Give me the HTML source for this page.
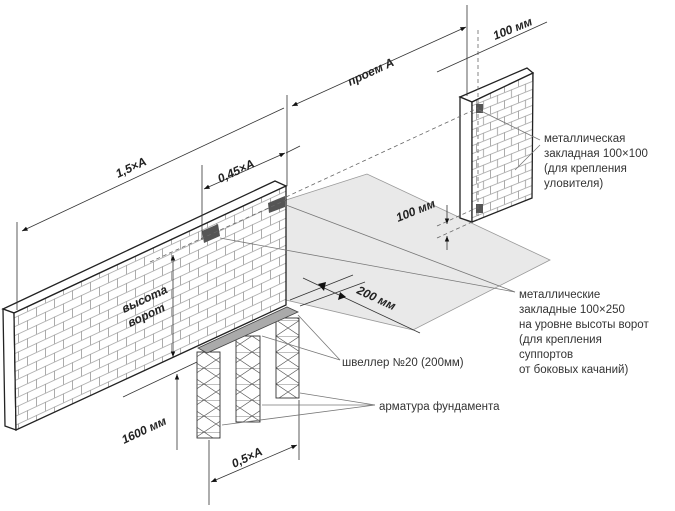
<!DOCTYPE html>
<html><head><meta charset="utf-8"><style>
html,body{margin:0;padding:0;background:#fff}
svg{display:block}
.d{font-family:"Liberation Sans",sans-serif;font-size:12px;font-weight:bold;font-style:italic;fill:#222}
.c{font-family:"Liberation Sans",sans-serif;font-size:11.5px;fill:#333}
</style></head><body>
<svg width="675" height="511" viewBox="0 0 675 511" xmlns="http://www.w3.org/2000/svg">
<defs>
<pattern id="br" width="18" height="18" patternUnits="userSpaceOnUse" patternTransform="skewY(-25)">
<rect width="18" height="18" fill="#fff"/>
<path d="M0 0.5H18M0 9.5H18M0.5 0V9M9.5 9V18" stroke="#999" stroke-width="0.8" fill="none"/>
</pattern>
<pattern id="br2" width="14" height="16" patternUnits="userSpaceOnUse" patternTransform="skewY(-22)">
<rect width="14" height="16" fill="#fff"/>
<path d="M0 0.5H14M0 8.5H14M0.5 0V8M7.5 8V16" stroke="#999" stroke-width="0.8" fill="none"/>
</pattern>
<marker id="a" viewBox="0 0 10 10" refX="10" refY="5" markerWidth="7" markerHeight="7" orient="auto-start-reverse"><path d="M0 1L10 5L0 9z" fill="#111"/></marker>
<pattern id="cage" width="24" height="16" patternUnits="userSpaceOnUse">
<path d="M0 8L12 0L24 8L12 16Z M0 0H24" stroke="#555" stroke-width="0.7" fill="none"/>
</pattern>
</defs>

<polygon points="286,200 367,174 550,260 413,330 286,300" fill="#e9e9e9" stroke="#999" stroke-width="0.8"/>

<polygon points="3,309 275,181 286,186 14,313" fill="#fff" stroke="#222" stroke-width="1.3"/>
<polygon points="3,309 14,313 16,430 5,426" fill="#fff" stroke="#222" stroke-width="1.3"/>
<polygon points="14,313 286,186 286,305 16,430" fill="url(#br)" stroke="#222" stroke-width="1.3"/>
<polygon points="202,231 218,224 220,236 204,243" fill="#555"/>
<polygon points="268,203 285,196 285,207 269,213" fill="#555"/>

<polygon points="460,97 527,68 533,73 472,102" fill="#fff" stroke="#222" stroke-width="1.3"/>
<polygon points="460,97 472,102 472,222 460,218" fill="#fff" stroke="#222" stroke-width="1.3"/>
<polygon points="472,102 533,73 532,198 472,222" fill="url(#br2)" stroke="#222" stroke-width="1.3"/>
<rect x="476" y="104" width="7" height="9" fill="#555"/>
<rect x="476" y="204" width="7" height="9" fill="#555"/>

<g stroke="#666" stroke-width="0.8" stroke-dasharray="4,3" fill="none">
<line x1="286" y1="197" x2="478" y2="108"/>
<line x1="150" y1="262" x2="286" y2="200"/>
<line x1="478" y1="30" x2="478" y2="220"/>
<line x1="437" y1="226" x2="472" y2="210"/>
<line x1="437" y1="238" x2="472" y2="222"/>
</g>

<g stroke="#333" stroke-width="0.9">
<rect x="197" y="352" width="23" height="86" fill="url(#cage)"/>
<rect x="236" y="336" width="24" height="86" fill="url(#cage)"/>
<rect x="276" y="318" width="23" height="80" fill="url(#cage)"/>
</g>
<polygon points="198,348 287,307 298,312 207,353" fill="#aaa" stroke="#444" stroke-width="0.8"/>

<g stroke="#333" stroke-width="0.8" fill="none">
<line x1="17" y1="222" x2="17" y2="310"/>
<line x1="287" y1="95" x2="287" y2="186"/>
<line x1="202" y1="165" x2="202" y2="240"/>
<line x1="467" y1="5" x2="467" y2="96"/>
<line x1="22" y1="231" x2="284" y2="108" marker-start="url(#a)"/>
<line x1="292" y1="106" x2="466" y2="27" marker-start="url(#a)" marker-end="url(#a)"/>
<line x1="204" y1="189" x2="285" y2="153" marker-start="url(#a)" marker-end="url(#a)"/>
<line x1="286" y1="153" x2="300" y2="146"/>
<line x1="437" y1="72" x2="547" y2="22"/>
<line x1="173" y1="255" x2="173" y2="357" marker-start="url(#a)" marker-end="url(#a)"/>
<line x1="177" y1="374" x2="177" y2="450" marker-start="url(#a)"/>
<line x1="123" y1="397" x2="197" y2="362"/>
<line x1="447" y1="205" x2="447" y2="224" marker-end="url(#a)"/>
<line x1="447" y1="250" x2="447" y2="236" marker-end="url(#a)"/>
<line x1="209" y1="440" x2="209" y2="505"/>
<line x1="299" y1="400" x2="299" y2="460"/>
<line x1="211" y1="482" x2="297" y2="445" marker-start="url(#a)" marker-end="url(#a)"/>
<line x1="290" y1="300" x2="353" y2="275"/>
<line x1="300" y1="306" x2="365" y2="282"/>
<line x1="303" y1="278" x2="420" y2="333"/>
</g>
<polygon points="318,284 324,291 326,282" fill="#111"/>
<polygon points="346,297 340,292 338,300" fill="#111"/>

<g stroke="#777" stroke-width="0.8" fill="none">
<line x1="540" y1="140" x2="479" y2="110"/>
<line x1="540" y1="145" x2="515" y2="170"/>
<line x1="515" y1="292" x2="220" y2="238"/>
<line x1="515" y1="292" x2="286" y2="205"/>
<line x1="340" y1="360" x2="262" y2="336"/>
<line x1="340" y1="360" x2="298" y2="315"/>
<line x1="375" y1="405" x2="300" y2="393"/>
<line x1="375" y1="405" x2="262" y2="405"/>
<line x1="375" y1="405" x2="222" y2="425"/>
</g>

<text class="d" transform="translate(118,178) rotate(-25)">1,5×A</text>
<text class="d" transform="translate(220,183) rotate(-25)">0,45×A</text>
<text class="d" transform="translate(350,86) rotate(-25)">проем A</text>
<text class="d" transform="translate(495,40) rotate(-22)">100 мм</text>
<text class="d" transform="translate(398,222) rotate(-22)">100 мм</text>
<text class="d" transform="translate(356,293) rotate(25)">200 мм</text>
<text class="d" transform="translate(124,313) rotate(-25)">высота</text>
<text class="d" transform="translate(130,327) rotate(-25)">ворот</text>
<text class="d" transform="translate(124,444) rotate(-25)">1600 мм</text>
<text class="d" transform="translate(234,468) rotate(-25)">0,5×A</text>

<text class="c" x="544" y="142">металлическая</text>
<text class="c" x="544" y="157">закладная 100×100</text>
<text class="c" x="544" y="172">(для крепления</text>
<text class="c" x="544" y="187">уловителя)</text>
<text class="c" x="519" y="298">металлические</text>
<text class="c" x="519" y="313">закладные 100×250</text>
<text class="c" x="519" y="328">на уровне высоты ворот</text>
<text class="c" x="519" y="343">(для крепления</text>
<text class="c" x="519" y="358">суппортов</text>
<text class="c" x="519" y="373">от боковых качаний)</text>
<text class="c" x="342" y="366">швеллер №20 (200мм)</text>
<text class="c" x="379" y="410">арматура фундамента</text>
</svg>
</body></html>
